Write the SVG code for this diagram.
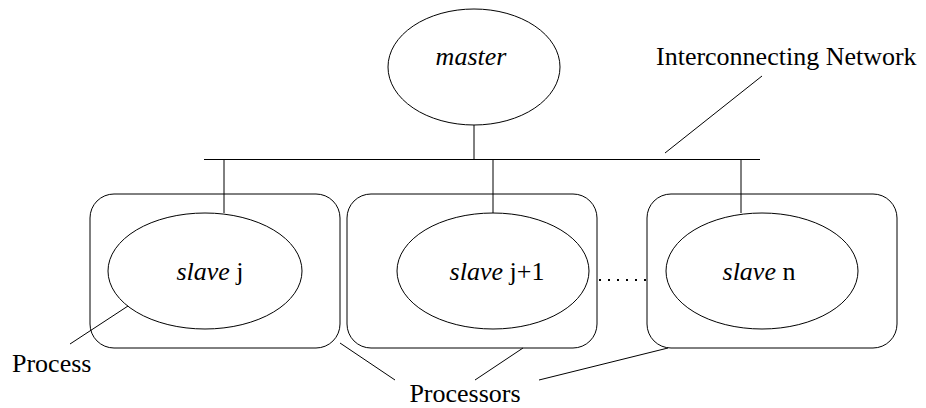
<svg xmlns="http://www.w3.org/2000/svg" width="926" height="408" viewBox="0 0 926 408">
<style>
.s{fill:none;stroke:#000;stroke-width:1}
.t{font-family:"Liberation Serif","Times New Roman",serif;font-size:26px;fill:#000}
.i{font-style:italic}
</style>
<rect x="0" y="0" width="926" height="408" fill="#fff"/>
<g id="master"><ellipse class="s" cx="474" cy="67" rx="86" ry="58"/><text class="t i" x="471" y="65" text-anchor="middle">master</text></g>
<g id="processor-j"><rect class="s" x="90" y="194" width="250" height="154" rx="24" ry="24"/></g>
<g id="processor-j1"><rect class="s" x="347" y="194" width="250" height="154" rx="24" ry="24"/></g>
<g id="processor-n"><rect class="s" x="647" y="194" width="250" height="154" rx="24" ry="24"/></g>
<g id="slave-j"><ellipse class="s" cx="205" cy="271" rx="97" ry="58"/><text class="t" x="210" y="280" text-anchor="middle"><tspan class="i">slave</tspan> j</text></g>
<g id="slave-j1"><ellipse class="s" cx="493" cy="271" rx="96" ry="58"/><text class="t" x="497" y="280" text-anchor="middle"><tspan class="i">slave</tspan> j+1</text></g>
<g id="slave-n"><ellipse class="s" cx="762" cy="271" rx="96" ry="58"/><text class="t" x="759" y="280" text-anchor="middle"><tspan class="i">slave</tspan> n</text></g>
<g id="labels">
<text class="t" x="656" y="65">Interconnecting Network</text>
<text class="t" x="12" y="372">Process</text>
<text class="t" x="465" y="402" text-anchor="middle">Processors</text>
</g>
<g id="connectors" class="s">
<line x1="204" y1="159.5" x2="760" y2="159.5"/>
<line x1="474" y1="125" x2="474" y2="159.5"/>
<line x1="224" y1="159.5" x2="224" y2="213"/>
<line x1="493" y1="159.5" x2="493" y2="213"/>
<line x1="741" y1="159.5" x2="741" y2="213"/>
<line x1="599" y1="280" x2="647" y2="280" stroke-width="2" stroke-dasharray="2 7"/>
<line x1="665" y1="153" x2="762" y2="76"/>
<line x1="70" y1="344" x2="128" y2="306"/>
<line x1="340" y1="343" x2="395" y2="380"/>
<line x1="523" y1="348" x2="475" y2="380"/>
<line x1="668" y1="348" x2="539" y2="380"/>
</g>
</svg>
